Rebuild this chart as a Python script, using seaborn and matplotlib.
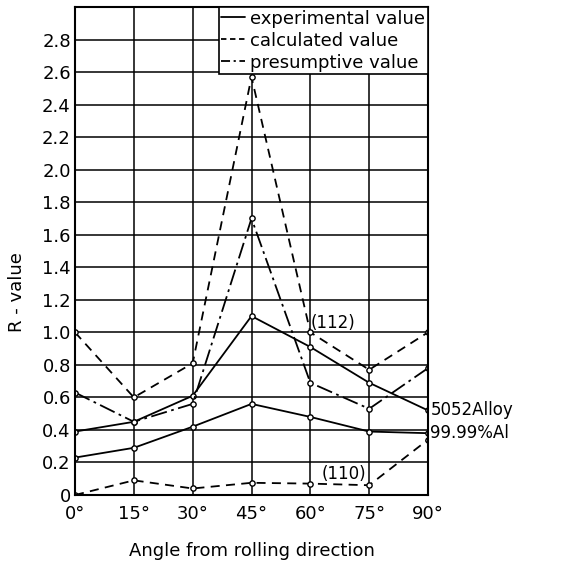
import matplotlib
matplotlib.use('Agg')
import matplotlib.pyplot as plt
from matplotlib.lines import Line2D
import seaborn as sns

# values
angles = [0, 15, 30, 45, 60, 75, 90]
al_experimental = [0.23, 0.29, 0.42, 0.56, 0.48, 0.39, 0.38]
alloy_experimental = [0.39, 0.45, 0.61, 1.10, 0.91, 0.69, 0.52]
calculated_112 = [1.00, 0.60, 0.81, 2.57, 1.00, 0.77, 1.00]
calculated_110 = [0.00, 0.09, 0.04, 0.075, 0.07, 0.06, 0.34]
presumptive = [0.63, 0.45, 0.56, 1.70, 0.69, 0.53, 0.78]

xtick_labels = ['0°', '15°', '30°', '45°', '60°', '75°', '90°']
ytick_values = [0, 0.2, 0.4, 0.6, 0.8, 1.0, 1.2, 1.4, 1.6, 1.8, 2.0, 2.2, 2.4, 2.6, 2.8]
ytick_labels = ['0', '0.2', '0.4', '0.6', '0.8', '1.0', '1.2', '1.4', '1.6', '1.8',
                '2.0', '2.2', '2.4', '2.6', '2.8']
legend_labels = ['experimental value', 'calculated value', 'presumptive value']

sns.set_style('white')
plt.rcParams['font.family'] = ['DejaVu Sans']
plt.rcParams['text.color'] = 'k'
plt.rcParams['axes.labelcolor'] = 'k'

fig = plt.figure(figsize=(5.78, 5.68), dpi=100)
ax = fig.add_axes([75 / 578, 1 - 495 / 568, 353 / 578, 488 / 568])

dash_style = (0, (5, 3.5))
dashdot_style = (0, (9, 2.5, 1.5, 2.5))
mk = dict(marker='o', markersize=3.8, markerfacecolor='white',
          markeredgecolor='k', markeredgewidth=1.0, color='k', lw=1.3)

sns.lineplot(x=angles, y=al_experimental, ax=ax, linestyle='-', **mk)
sns.lineplot(x=angles, y=alloy_experimental, ax=ax, linestyle='-', **mk)
sns.lineplot(x=angles, y=calculated_112, ax=ax, linestyle=dash_style, **mk)
sns.lineplot(x=angles, y=calculated_110, ax=ax, linestyle=dash_style, **mk)
sns.lineplot(x=angles, y=presumptive, ax=ax, linestyle=dashdot_style, **mk)

ax.set_xlim(0, 90)
ax.set_ylim(0, 3.0)
ax.set_xticks(angles)
ax.set_xticklabels(xtick_labels, fontsize=13)
ax.set_yticks(ytick_values)
ax.set_yticklabels(ytick_labels, fontsize=13)
ax.tick_params(axis='both', length=0, colors='k')
ax.tick_params(axis='x', pad=7)
ax.tick_params(axis='y', pad=3)
ax.grid(True, color='k', lw=1.1)
ax.set_axisbelow(True)
for s in ax.spines.values():
    s.set_color('k')
    s.set_linewidth(1.5)

ax.set_xlabel('Angle from rolling direction', fontsize=13, labelpad=14)
ax.set_ylabel('R - value', fontsize=13)
ax.yaxis.set_label_coords(-0.14, 0.416)

# annotations
ax.text(60.2, 1.06, '(112)', fontsize=12, ha='left', va='center')
ax.text(68.5, 0.13, '(110)', fontsize=12, ha='center', va='center')
ax.text(90.6, 0.52, '5052Alloy', fontsize=12, ha='left', va='center', clip_on=False)
ax.text(90.6, 0.38, '99.99%Al', fontsize=12, ha='left', va='center', clip_on=False)

handles = [Line2D([], [], color='k', lw=1.3, linestyle='-'),
           Line2D([], [], color='k', lw=1.3, linestyle=(0, (3, 2))),
           Line2D([], [], color='k', lw=1.3, linestyle=(0, (5, 2, 1.2, 2)))]
leg = ax.legend(handles, legend_labels, loc='upper right', bbox_to_anchor=(1, 1),
                borderaxespad=0, fontsize=13, handlelength=1.3, handletextpad=0.3,
                labelspacing=0.22, borderpad=0.15, fancybox=False, framealpha=1)
leg.get_frame().set_edgecolor('k')
leg.get_frame().set_linewidth(1.2)

fig.savefig('out.png', dpi=100)
